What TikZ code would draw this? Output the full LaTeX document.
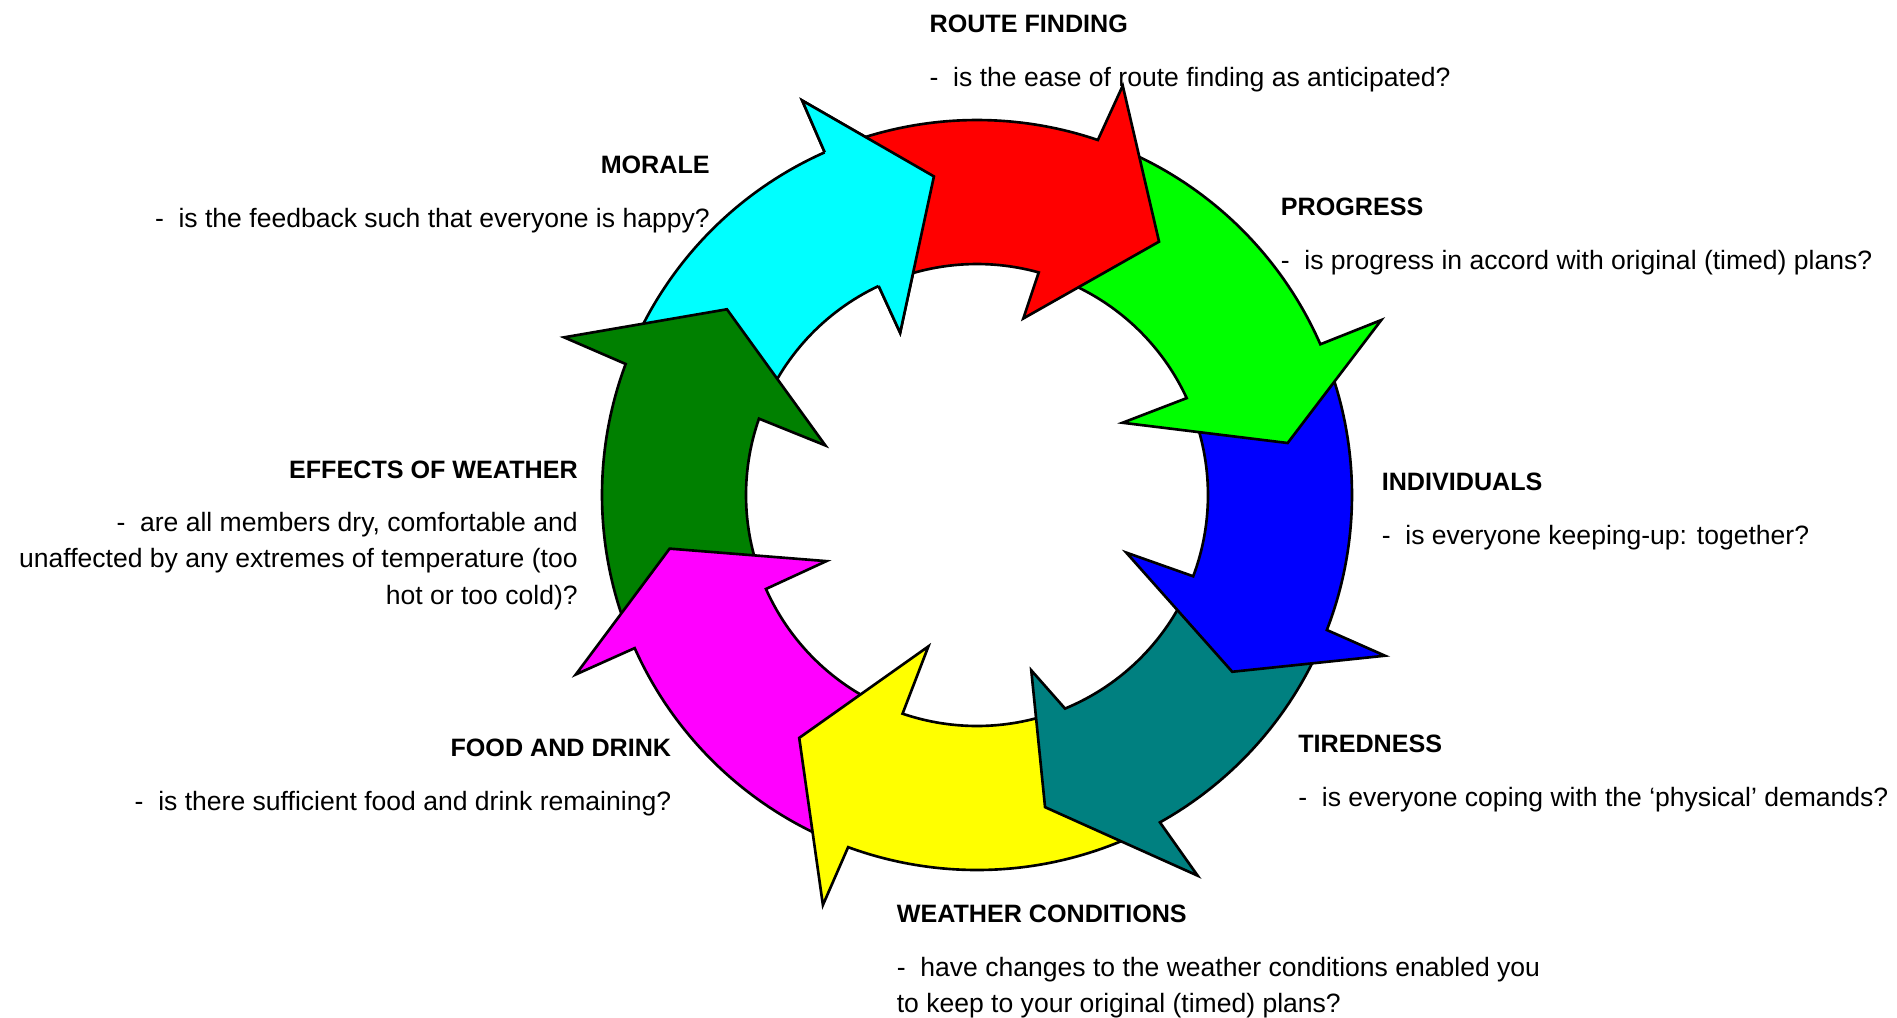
\documentclass[tikz,border=0pt]{standalone}
\usepackage{fontspec}
\setmainfont{Liberation Sans}
\usepackage{tikz}
\usetikzlibrary{positioning}
\usepackage{xcolor}
\definecolor{ringcyan}{RGB}{0,255,255}
\definecolor{ringred}{RGB}{255,0,0}
\definecolor{ringgreen}{RGB}{0,255,0}
\definecolor{ringblue}{RGB}{0,0,255}
\definecolor{ringteal}{RGB}{0,128,128}
\definecolor{ringyellow}{RGB}{255,255,0}
\definecolor{ringmagenta}{RGB}{255,0,255}
\definecolor{dkgreen}{RGB}{0,128,0}

\def\Rout{7.5}
\def\Rin{4.62}
% colour, tail out/in angle, base out/in angle, barb out, tip, barb in
\newcommand{\ringarrow}[8]{%
  \draw[ring,fill=#1] (#2:\Rout) arc[start angle=#2,end angle=#4,radius=\Rout]
    -- (#6) -- (#7) -- (#8) -- (#5:\Rin) arc[start angle=#5,end angle=#3,radius=\Rin] -- cycle;}

\begin{document}
\begin{tikzpicture}[ring/.style={draw=black,line width=1.5pt,line join=miter},
        head/.style={font={\fontsize{14.3pt}{17pt}\selectfont\bfseries},inner sep=0pt},
        txt/.style={font={\fontsize{15.1pt}{20.5pt}\selectfont},inner sep=0pt}]

    \useasboundingbox (-19.54,-10.44) rectangle (18.40,9.90);

    \node[head,anchor=base west] (route) at (-0.954,9.26) {ROUTE FINDING};
    \node[txt,below=1.08cm of route.base west,anchor=base west] (routetxt) {-\ \ is the ease of route finding as anticipated?};

    \node[head,anchor=base east] (morale) at (-5.34,6.43) {MORALE};
    \node[txt,below=1.08cm of morale.base east,anchor=base east] (moraletxt) {-\ \ is the feedback such that everyone is happy?};

    \node[head,anchor=base west] (progress) at (6.07,5.60) {PROGRESS};
    \node[txt,below=1.08cm of progress.base west,anchor=base west] (progresstxt) {-\ \ is progress in accord with original (timed) plans?};

    \node[head,anchor=base east] (effects) at (-7.98,0.34) {EFFECTS OF WEATHER};
    \node[txt,align=right,below=2.52cm of effects.base east,anchor=base east] (effectstxt)
        {-\ \ are all members dry, comfortable and\\unaffected by any extremes of temperature (too\\hot or too cold)?};

    \node[head,anchor=base west] (individuals) at (8.09,0.09) {INDIVIDUALS};
    \node[txt,below=1.08cm of individuals.base west,anchor=base west] (individualstxt) {-\ \ is everyone keeping-up: together?};

    \node[head,anchor=base west] (tiredness) at (6.42,-5.14) {TIREDNESS};
    \node[txt,below=1.08cm of tiredness.base west,anchor=base west] (tirednesstxt) {-\ \ is everyone coping with the ‘physical’ demands?};

    \node[head,anchor=base east] (food) at (-6.11,-5.23) {FOOD AND DRINK};
    \node[txt,below=1.08cm of food.base east,anchor=base east] (foodtxt) {-\ \ is there sufficient food and drink remaining?};

    \node[head,anchor=base west] (weather) at (-1.61,-8.55) {WEATHER CONDITIONS};
    \node[txt,align=left,below=1.80cm of weather.base west,anchor=base west] (weathertxt)
        {-\ \ have changes to the weather conditions enabled you\\to keep to your original (timed) plans?};

    \ringarrow{ringcyan}{158.3}{159.5}{113.96}{115.2}{113.9:8.63}{97.7:6.43}{115.35:3.59}
    \ringarrow{dkgreen}{202.9}{202.8}{159.55}{160.7}{159.1:8.84}{143.4:6.23}{161.9:3.19}
    \ringarrow{ringmagenta}{-111.3}{-110.0}{-155.9}{-156.0}{-155.9:8.79}{-170.1:6.24}{-156.3:3.29}
    \ringarrow{ringyellow}{-62.0}{-68.8}{-110.1}{-108.8}{-110.6:8.76}{-126.2:6.02}{-107.8:3.18}
    \ringarrow{ringteal}{-22.3}{-21.8}{-60.8}{-67.6}{-59.9:8.80}{-77.7:6.39}{-72.8:3.67}
    \ringarrow{ringblue}{22.5}{23.6}{-21.1}{-20.6}{-21.5:8.77}{-34.7:6.21}{-21.1:3.20}
    \ringarrow{ringgreen}{70.0}{73.3}{23.7}{24.8}{23.4:8.81}{9.5:6.30}{26.4:3.25}
    \ringarrow{ringred}{112.8}{114.0}{71.2}{74.5}{70.4:8.69}{54.3:6.24}{75.3:3.65}

    % cyan head again, over the red tail
    \fill[ringcyan] (113.96:\Rout) -- (113.9:8.63) -- (97.7:6.43) -- (115.35:3.59) -- (115.2:\Rin) -- cycle;
    \draw[ring] (113.96:\Rout) -- (113.9:8.63) -- (97.7:6.43) -- (115.35:3.59) -- (115.2:\Rin);

\end{tikzpicture}
\end{document}
